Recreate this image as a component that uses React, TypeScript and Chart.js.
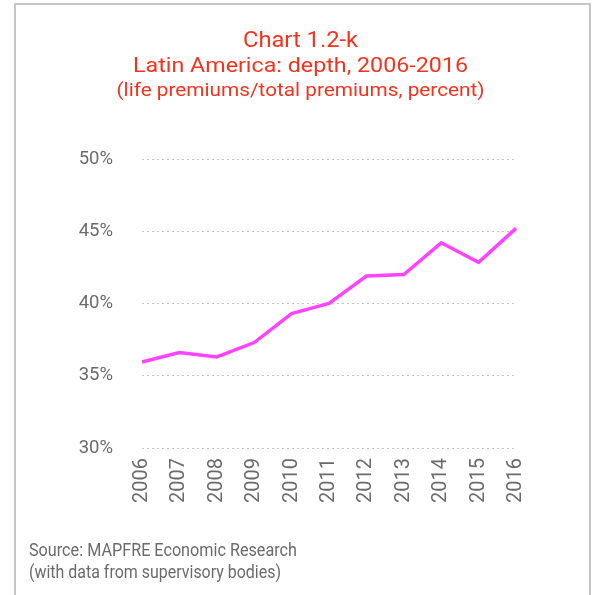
import React, { useEffect, useRef } from "react";
import { Chart, registerables } from "chart.js";

Chart.register(...registerables);

const YEARS = ["2006", "2007", "2008", "2009", "2010", "2011", "2012", "2013", "2014", "2015", "2016"];
const DEPTH = [35.95, 36.6, 36.3, 37.3, 39.3, 40.0, 41.9, 42.0, 44.2, 42.85, 45.2];
const Y_MIN = 30;
const Y_MAX = 50;
const Y_STEP = 5;

const TITLE_LINES = [
  "Chart 1.2-k",
  "Latin America: depth, 2006-2016",
  "(life premiums/total premiums, percent)",
];
const SOURCE_LINES = [
  "Source: MAPFRE Economic Research",
  "(with data from supervisory bodies)",
];

const FONT = "Roboto, 'Noto Sans', sans-serif";
const RED = "#f5321e";
const GREY_TEXT = "#6b6b6b";

function drawFit(
  ctx: CanvasRenderingContext2D,
  text: string,
  x: number,
  baseline: number,
  width: number,
  size: number,
  color: string,
  center: boolean
) {
  ctx.save();
  ctx.font = `${size}px ${FONT}`;
  const w = ctx.measureText(text).width;
  const s = width / w;
  ctx.translate(center ? x - width / 2 : x, baseline);
  ctx.scale(s, 1);
  ctx.textAlign = "left";
  ctx.textBaseline = "alphabetic";
  ctx.fillStyle = color;
  ctx.fillText(text, 0, 0);
  ctx.restore();
}

const textPlugin = {
  id: "textPlugin",
  afterDraw(chart: any) {
    const ctx = chart.ctx as CanvasRenderingContext2D;
    const titleSpec = [
      { w: 115, b: 47, s: 22 },
      { w: 335, b: 72, s: 21 },
      { w: 368, b: 96, s: 19 },
    ];
    TITLE_LINES.forEach((t, i) =>
      drawFit(ctx, t, 300.5, titleSpec[i].b, titleSpec[i].w, titleSpec[i].s, RED, true)
    );
    const srcSpec = [
      { w: 268, b: 556, s: 18 },
      { w: 252, b: 578, s: 18 },
    ];
    SOURCE_LINES.forEach((t, i) =>
      drawFit(ctx, t, 29, srcSpec[i].b, srcSpec[i].w, srcSpec[i].s, GREY_TEXT, false)
    );
  },
};

export default function App() {
  const ref = useRef<HTMLCanvasElement | null>(null);

  useEffect(() => {
    document.body.style.margin = "0";
    if (!ref.current) return;
    const chart = new Chart(ref.current, {
      type: "line",
      data: {
        labels: YEARS,
        datasets: [
          {
            data: DEPTH,
            borderColor: "#ff44ff",
            backgroundColor: "#ff44ff",
            borderWidth: 3.5,
            pointRadius: 0,
            tension: 0,
            fill: false,
          },
        ],
      },
      options: {
        responsive: false,
        animation: false,
        devicePixelRatio: 1,
        layout: { padding: { left: 0, right: 81, top: 159, bottom: 87 } },
        plugins: {
          legend: { display: false },
          title: { display: false },
          tooltip: { enabled: false },
        },
        scales: {
          x: {
            offset: false,
            grid: { display: false, drawTicks: false },
            border: { display: false },
            ticks: {
              minRotation: 90,
              maxRotation: 90,
              padding: 10,
              color: GREY_TEXT,
              font: { family: FONT, size: 20 },
              autoSkip: false,
            },
            afterFit(scale: any) {
              scale.height = 60;
            },
          },
          y: {
            min: Y_MIN,
            max: Y_MAX,
            grid: { color: "#c4c4c4", lineWidth: 1, drawTicks: false },
            border: { display: false, dash: [2, 3] },
            ticks: {
              stepSize: Y_STEP,
              padding: 29,
              color: GREY_TEXT,
              font: { family: FONT, size: 18.5 },
              callback: (v: any) => `${v}%`,
            },
            afterFit(scale: any) {
              scale.width = 142;
            },
          },
        },
      },
      plugins: [textPlugin],
    });
    return () => chart.destroy();
  }, []);

  return (
    <div style={{ position: "absolute", left: 0, top: 0, width: 597, height: 595, background: "#fff", overflow: "hidden" }}>
      <div
        style={{
          position: "absolute",
          left: 14,
          top: 3,
          width: 577,
          height: 700,
          boxSizing: "border-box",
          borderLeft: "2px solid #c6c6c6",
          borderTop: "2px solid #c6c6c6",
          borderRight: "2px solid #c6c6c6",
        }}
      />
      <canvas ref={ref} width={597} height={595} style={{ position: "absolute", left: 0, top: 0, display: "block" }} />
    </div>
  );
}
